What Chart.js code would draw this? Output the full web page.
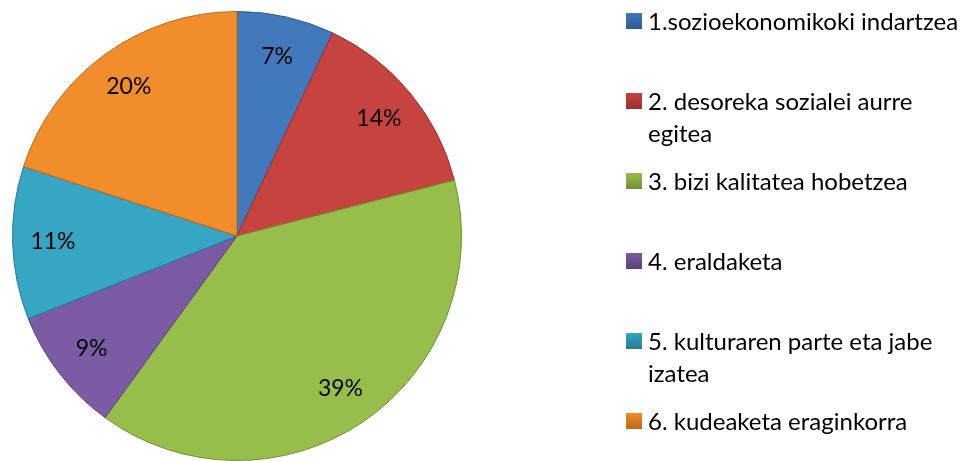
<!DOCTYPE html>
<html>
<head>
<meta charset="utf-8">
<script src="https://cdn.jsdelivr.net/npm/chart.js@4"></script>
<style>
  html, body { margin: 0; padding: 0; background: #fff; }
  #wrap { width: 976px; height: 461px; position: relative; }
</style>
</head>
<body>
<div id="wrap"><canvas id="pieChart"></canvas></div>
<script>
var labels = [
    '1.sozioekonomikoki indartzea',
    ['2. desoreka sozialei aurre', 'egitea'],
    '3. bizi kalitatea hobetzea',
    '4. eraldaketa',
    ['5. kulturaren parte eta jabe', 'izatea'],
    '6. kudeaketa eraginkorra'
];
var values = [7, 14, 39, 9, 11, 20];
var colors = ['#4279bd', '#c7433f', '#97be4b', '#7b5ba3', '#37a5c4', '#f28d2c'];
var edges = ['#2c5a94', '#963230', '#6f8f33', '#5a417c', '#257b94', '#b9661c'];

// percent labels inside the slices
var sliceLabels = {
    id: 'sliceLabels',
    afterDatasetsDraw: function (chart) {
        var ctx = chart.ctx;
        var meta = chart.getDatasetMeta(0);
        var total = values.reduce(function (a, b) { return a + b; }, 0);
        ctx.save();
        ctx.font = '23px Lato, "Open Sans", sans-serif';
        ctx.fillStyle = '#000';
        ctx.textAlign = 'center';
        ctx.textBaseline = 'middle';
        meta.data.forEach(function (arc, i) {
            var p = arc.getProps(['x', 'y', 'startAngle', 'endAngle', 'outerRadius'], true);
            var mid = (p.startAngle + p.endAngle) / 2;
            var r = p.outerRadius * 0.82;
            var pct = Math.round(values[i] / total * 100) + '%';
            ctx.fillText(pct, p.x + Math.cos(mid) * r, p.y + Math.sin(mid) * r);
        });
        ctx.restore();
    }
};

// legend on the right, wrapped lines
var sideLegend = {
    id: 'sideLegend',
    afterDraw: function (chart) {
        var ctx = chart.ctx;
        ctx.save();
        ctx.font = '24px Lato, "Open Sans", sans-serif';
        ctx.textBaseline = 'middle';
        var x0 = 626, y0 = 21, step = 80;
        chart.data.labels.forEach(function (lab, i) {
            var y = y0 + i * step;
            var g = ctx.createLinearGradient(0, y - 8, 0, y + 8);
            g.addColorStop(0, colors[i]);
            g.addColorStop(1, edges[i]);
            ctx.fillStyle = g;
            ctx.fillRect(x0, y - 8, 16, 16);
            ctx.fillStyle = '#000';
            var lines = Array.isArray(lab) ? lab : [lab];
            lines.forEach(function (t, j) {
                ctx.fillText(t, x0 + 22, y + 1 + j * 32);
            });
        });
        ctx.restore();
    }
};

new Chart(document.getElementById('pieChart'), {
    type: 'pie',
    data: {
        labels: labels,
        datasets: [{
            data: values,
            backgroundColor: colors,
            borderColor: edges,
            borderWidth: 1
        }]
    },
    options: {
        responsive: true,
        maintainAspectRatio: false,
        animation: false,
        layout: { padding: { left: 12, right: 514, top: 11, bottom: 0 } },
        plugins: {
            legend: { display: false },
            tooltip: { enabled: false }
        }
    },
    plugins: [sliceLabels, sideLegend]
});
</script>
</body>
</html>
